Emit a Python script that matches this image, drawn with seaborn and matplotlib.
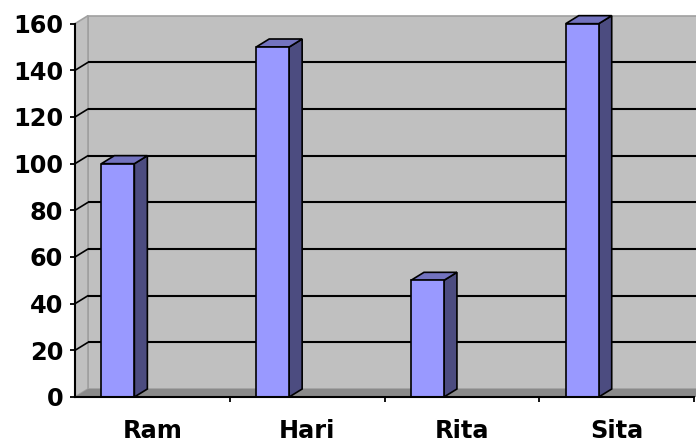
import seaborn as sns
import matplotlib.pyplot as plt
from matplotlib.patches import Polygon

# data
names = ['Ram', 'Hari', 'Rita', 'Sita']
values = [100, 150, 50, 160]
y_ticks = [0, 20, 40, 60, 80, 100, 120, 140, 160]

sns.set_style('white')
plt.rcParams['font.family'] = ['DejaVu Sans']

# 3d look (depth offset in data units)
dx = 0.084
dy = 3.43
x_left = -0.277
x_right = 3.735
y_top = 165
wall_c = '#c0c0c0'
floor_c = '#8a8a8a'
edge_c = '#a0a0a0'

fig = plt.figure(figsize=(6.96, 4.43), dpi=100)
ax = fig.add_axes([75 / 696, 46 / 443, 621 / 696, 385 / 443])
ax.set_xlim(x_left, x_right)
ax.set_ylim(0, y_top)
ax.patch.set_alpha(0)

top = y_ticks[-1]
# back wall
ax.add_patch(Polygon([(x_left + dx, dy), (x_right + 1, dy), (x_right + 1, top + dy),
                      (x_left + dx, top + dy)], closed=True, facecolor=wall_c,
                     edgecolor=edge_c, lw=1.2, zorder=0, clip_on=False))
# side wall
ax.add_patch(Polygon([(x_left, 0), (x_left + dx, dy), (x_left + dx, top + dy),
                      (x_left, top)], closed=True, facecolor=wall_c,
                     edgecolor=edge_c, lw=1.2, zorder=0, clip_on=False))
# floor
ax.add_patch(Polygon([(x_left, 0), (x_left + dx, dy), (x_right + 1, dy),
                      (x_right + 1, 0)], closed=True, facecolor=floor_c,
                     edgecolor='none', zorder=0.5, clip_on=False))

# gridlines on wall
for v in y_ticks[1:-1]:
    ax.plot([x_left + dx, x_right + 1], [v + dy, v + dy], color='black', lw=1.5,
            zorder=1, clip_on=False, solid_capstyle='butt')
    ax.plot([x_left, x_left + dx], [v, v + dy], color='black', lw=1.2, zorder=1)

# bars (front faces)
sns.barplot(x=names, y=values, width=0.213, color='#9999ff', edgecolor='black',
            linewidth=1.2, saturation=1, ax=ax, zorder=3)

for p in ax.containers[0]:
    x0 = p.get_x()
    x1 = x0 + p.get_width()
    h = p.get_height()
    ax.add_patch(Polygon([(x1, 0), (x1 + dx, dy), (x1 + dx, h + dy), (x1, h)],
                         closed=True, facecolor='#4c4c80', edgecolor='black',
                         lw=1.2, zorder=2.9))
    ax.add_patch(Polygon([(x0, h), (x0 + dx, h + dy), (x1 + dx, h + dy), (x1, h)],
                         closed=True, facecolor='#7373bf', edgecolor='black',
                         lw=1.2, zorder=2.9, clip_on=False))

ax.set_xlim(x_left, x_right)
ax.set_ylim(0, y_top)

# axes
for s in ['top', 'right']:
    ax.spines[s].set_visible(False)
ax.spines['left'].set_bounds(0, top)
ax.spines['bottom'].set_bounds(x_left, 3.72)
for s in ['left', 'bottom']:
    ax.spines[s].set_color('black')
    ax.spines[s].set_linewidth(1.5)
    ax.spines[s].set_zorder(4)

ax.set_yticks(y_ticks)
ax.set_yticklabels([str(v) for v in y_ticks], fontsize=17.3, fontweight='bold')
label_pos = [i + 0.223 for i in range(len(names))]
ax.set_xticks(label_pos)
ax.set_xticklabels(names, fontsize=17.3, fontweight='bold')
ax.set_xticks([i + 0.723 for i in range(len(names))], minor=True)
ax.tick_params(axis='y', left=True, length=3.6, width=1.3, color='black',
               labelcolor='black', pad=5)
ax.tick_params(axis='x', which='major', bottom=True, length=0, pad=16,
               labelcolor='black')
ax.tick_params(axis='x', which='minor', bottom=True, length=3.6, width=1.3, color='black')
ax.set_xlabel('')
ax.set_ylabel('')

plt.savefig('out.png', dpi=100)
